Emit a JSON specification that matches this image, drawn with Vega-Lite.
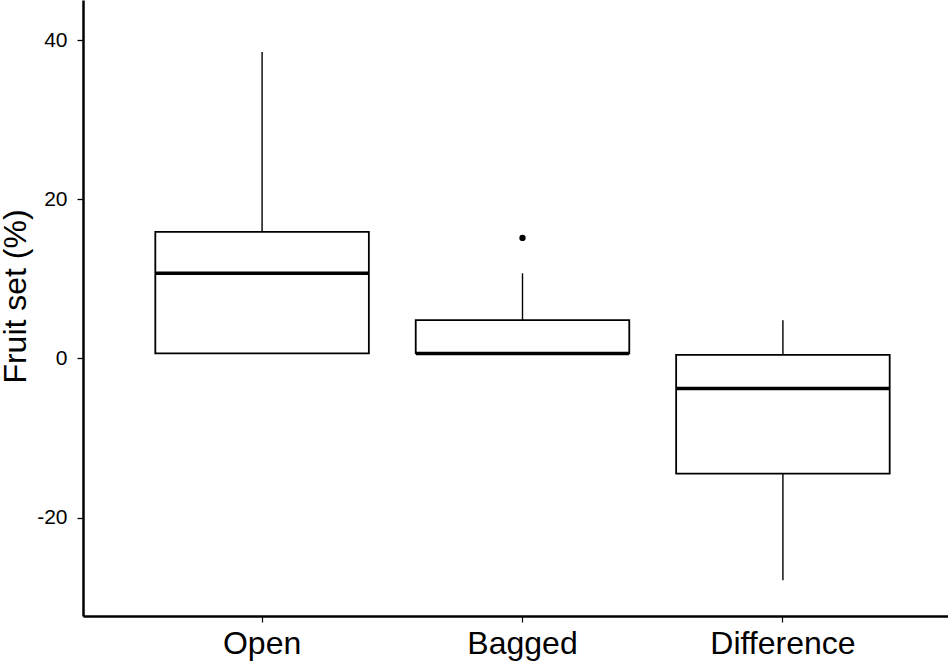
{
  "$schema": "https://vega.github.io/schema/vega-lite/v6.json",
  "autosize": {"type": "none"},
  "padding": {"left": 83, "top": 0, "right": 0, "bottom": 48},
  "width": 879,
  "height": 616,
  "background": "white",
  "config": {
    "view": {"stroke": null},
    "font": "Liberation Sans",
    "axis": {"grid": false, "domainColor": "black", "tickColor": "black", "labelColor": "black", "titleColor": "black", "labelFont": "Liberation Sans", "titleFont": "Liberation Sans", "titleFontWeight": "normal"}
  },
  "datasets": {
    "boxes": [
      {"group": "Open", "lower": 0.63, "q1": 0.63, "median": 10.7, "q3": 15.9, "upper": 38.5},
      {"group": "Bagged", "lower": 0.63, "q1": 0.63, "median": 0.63, "q3": 4.81, "upper": 10.7},
      {"group": "Difference", "lower": -27.87, "q1": -14.46, "median": -3.77, "q3": 0.45, "upper": 4.81}
    ],
    "outliers": [
      {"group": "Bagged", "value": 15.15}
    ]
  },
  "encoding": {
    "x": {
      "field": "group", "type": "nominal",
      "scale": {"domain": ["Open", "Bagged", "Difference"], "paddingInner": 0, "paddingOuter": 0.1877},
      "axis": {"title": null, "labelAngle": 0, "labelFontSize": 32, "labelPadding": 31, "tickSize": 6, "tickWidth": 1.2, "domainWidth": 2.5, "labelBaseline": "alphabetic"}
    }
  },
  "layer": [
    {
      "data": {"name": "boxes"},
      "mark": {"type": "rule", "color": "black", "strokeWidth": 1.4},
      "encoding": {
        "y": {"field": "lower", "type": "quantitative",
          "scale": {"domain": [-32.36, 45.04], "nice": false, "zero": false},
          "axis": {"title": "Fruit set (%)", "titleFontSize": 32, "titleX": -58, "titleY": 296, "titleBaseline": "alphabetic", "titleAngle": 270, "values": [-20, 0, 20, 40], "labelExpr": "'' + datum.value", "labelFontSize": 21, "labelPadding": 10, "tickSize": 6, "tickWidth": 1.3, "domainWidth": 2.5}},
        "y2": {"field": "q1"}
      }
    },
    {
      "data": {"name": "boxes"},
      "mark": {"type": "rule", "color": "black", "strokeWidth": 1.4},
      "encoding": {
        "y": {"field": "q3", "type": "quantitative"},
        "y2": {"field": "upper"}
      }
    },
    {
      "data": {"name": "boxes"},
      "mark": {"type": "bar", "fill": "white", "stroke": "black", "strokeWidth": 1.8, "width": {"band": 0.82}},
      "encoding": {
        "y": {"field": "q1", "type": "quantitative"},
        "y2": {"field": "q3"}
      }
    },
    {
      "data": {"name": "boxes"},
      "mark": {"type": "tick", "color": "black", "opacity": 1, "size": 213, "thickness": 3.5, "orient": "horizontal"},
      "encoding": {
        "y": {"field": "median", "type": "quantitative"}
      }
    },
    {
      "data": {"name": "outliers"},
      "mark": {"type": "point", "filled": true, "color": "black", "size": 40, "opacity": 1},
      "encoding": {
        "y": {"field": "value", "type": "quantitative"}
      }
    }
  ]
}
